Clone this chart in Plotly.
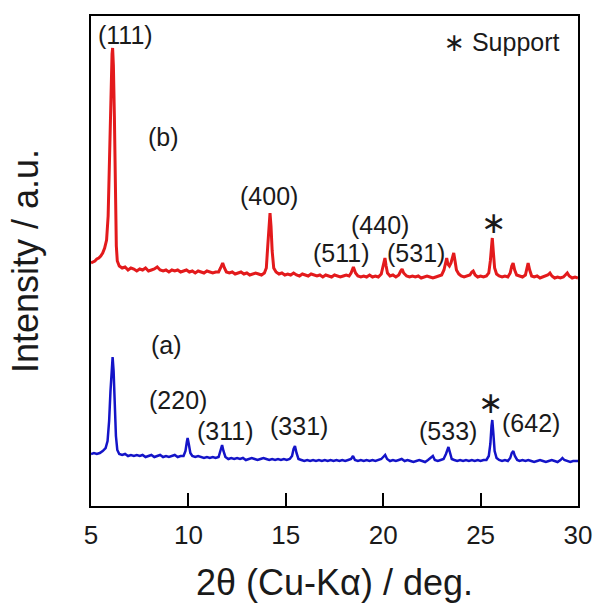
import plotly.graph_objects as go

# ---- data (2theta in deg, intensity in arbitrary units) ----
b_x = [5.00, 5.10, 5.20, 5.30, 5.40, 5.50, 5.60, 5.70, 5.80, 5.88, 5.95, 6.02, 6.08, 6.11, 6.15, 6.20, 6.25, 6.30, 6.35, 6.45,
       6.60, 6.75, 6.90, 7.05, 7.20, 7.35, 7.50, 7.65, 7.80, 7.95, 8.10, 8.25, 8.40, 8.55, 8.70, 8.85, 9.00, 9.15, 9.30, 9.45,
       9.60, 9.75, 9.90, 10.05, 10.20, 10.35, 10.50, 10.65, 10.80, 10.95, 11.10, 11.25, 11.40, 11.55, 11.65, 11.76, 11.85, 11.95,
       12.10, 12.25, 12.40, 12.55, 12.70, 12.85, 13.00, 13.15, 13.30, 13.45, 13.60, 13.75, 13.90, 14.00, 14.08, 14.14, 14.19,
       14.24, 14.30, 14.38, 14.50, 14.65, 14.80, 14.95, 15.10, 15.25, 15.40, 15.55, 15.70, 15.85, 16.00, 16.15, 16.30, 16.45,
       16.60, 16.75, 16.90, 17.05, 17.20, 17.35, 17.50, 17.65, 17.80, 17.95, 18.10, 18.25, 18.35, 18.47, 18.58, 18.70, 18.85,
       19.00, 19.15, 19.30, 19.45, 19.60, 19.75, 19.90, 19.98, 20.05, 20.09, 20.15, 20.22, 20.35, 20.50, 20.65, 20.80, 20.90,
       20.97, 21.05, 21.20, 21.35, 21.50, 21.65, 21.80, 21.95, 22.10, 22.25, 22.40, 22.55, 22.70, 22.85, 23.00, 23.12, 23.20,
       23.26, 23.32, 23.40, 23.48, 23.56, 23.62, 23.68, 23.76, 23.88, 24.00, 24.15, 24.30, 24.45, 24.55, 24.62, 24.72, 24.85,
       25.00, 25.15, 25.30, 25.42, 25.50, 25.56, 25.60, 25.65, 25.72, 25.82, 25.95, 26.10, 26.25, 26.40, 26.52, 26.60, 26.67,
       26.75, 26.85, 27.00, 27.15, 27.30, 27.38, 27.44, 27.52, 27.62, 27.75, 27.90, 28.05, 28.20, 28.35, 28.45, 28.56, 28.66,
       28.80, 28.95, 29.10, 29.25, 29.35, 29.45, 29.55, 29.70, 29.85, 30.00]
b_y = [243, 244, 245, 247, 248, 250, 253, 258, 266, 290, 350, 420, 452, 458, 440, 390, 320, 260, 245, 240,
       238, 239, 236, 238, 237, 235, 237, 236, 238, 235, 236, 237, 239, 236, 235, 236, 234, 236, 235, 236,
       234, 235, 236, 234, 235, 233, 235, 234, 233, 235, 234, 233, 234, 234, 238, 243, 238, 234,
       233, 234, 232, 233, 234, 232, 233, 231, 232, 233, 232, 231, 233, 238, 262, 285, 293,
       280, 255, 238, 234, 232, 233, 231, 232, 231, 233, 231, 230, 232, 231, 230, 232, 231,
       230, 231, 229, 231, 230, 229, 231, 230, 229, 230, 231, 230, 233, 239, 233, 230, 229,
       230, 229, 231, 229, 230, 229, 232, 238, 246, 248, 240, 233, 230, 231, 229, 231, 235,
       237, 233, 230, 229, 230, 229, 230, 228, 229, 230, 229, 228, 229, 230, 231, 236, 244,
       248, 242, 240, 243, 250, 253, 246, 236, 232, 230, 229, 230, 231, 234, 235, 231, 229,
       230, 229, 230, 233, 245, 262, 268, 255, 238, 232, 230, 229, 230, 229, 233, 240, 243,
       236, 231, 230, 229, 231, 238, 243, 236, 230, 229, 230, 228, 229, 230, 231, 233, 230,
       228, 229, 228, 229, 231, 233, 230, 228, 229, 228]

a_x = [5.00, 5.15, 5.30, 5.45, 5.60, 5.75, 5.85, 5.93, 6.00, 6.06, 6.11, 6.16, 6.22, 6.28, 6.35, 6.45, 6.60, 6.75, 6.90,
       7.05, 7.20, 7.35, 7.50, 7.65, 7.80, 7.95, 8.10, 8.25, 8.40, 8.55, 8.70, 8.85, 9.00, 9.15, 9.30, 9.45, 9.60, 9.75,
       9.85, 9.92, 9.96, 10.02, 10.10, 10.20, 10.35, 10.50, 10.65, 10.80, 10.95, 11.10, 11.25, 11.40, 11.55, 11.65, 11.73,
       11.80, 11.90, 12.05, 12.20, 12.35, 12.50, 12.65, 12.80, 12.95, 13.10, 13.25, 13.40, 13.55, 13.70, 13.85, 14.00,
       14.15, 14.30, 14.45, 14.60, 14.75, 14.90, 15.05, 15.20, 15.32, 15.40, 15.47, 15.55, 15.65, 15.80, 15.95, 16.10,
       16.25, 16.40, 16.55, 16.70, 16.85, 17.00, 17.15, 17.30, 17.45, 17.60, 17.75, 17.90, 18.05, 18.20, 18.35, 18.45,
       18.55, 18.70, 18.85, 19.00, 19.15, 19.30, 19.45, 19.60, 19.75, 19.90, 20.00, 20.10, 20.20, 20.35, 20.50, 20.65,
       20.80, 20.95, 21.10, 21.25, 21.40, 21.55, 21.70, 21.85, 22.00, 22.15, 22.30, 22.45, 22.55, 22.65, 22.80, 22.95,
       23.10, 23.22, 23.30, 23.35, 23.42, 23.52, 23.65, 23.80, 23.95, 24.10, 24.25, 24.40, 24.55, 24.70, 24.85, 25.00,
       25.15, 25.30, 25.42, 25.50, 25.56, 25.60, 25.65, 25.72, 25.82, 25.95, 26.10, 26.25, 26.40, 26.52, 26.60, 26.68,
       26.76, 26.88, 27.00, 27.15, 27.30, 27.45, 27.60, 27.75, 27.90, 28.05, 28.20, 28.35, 28.50, 28.65, 28.80, 28.95,
       29.10, 29.20, 29.30, 29.45, 29.60, 29.75, 29.90, 30.00]
a_y = [52, 53, 52, 53, 55, 58, 65, 85, 115, 140, 149, 135, 100, 70, 56, 52, 51, 52, 50,
       51, 50, 51, 50, 51, 49, 50, 51, 49, 50, 51, 49, 50, 49, 50, 51, 49, 50, 50,
       55, 64, 68, 62, 53, 50, 49, 50, 49, 48, 49, 48, 49, 48, 49, 55, 61,
       55, 49, 47, 48, 47, 48, 47, 48, 46, 47, 48, 47, 46, 47, 48, 47,
       46, 47, 46, 47, 46, 47, 46, 47, 50, 57, 60, 53, 47, 46, 45, 46,
       45, 46, 45, 46, 45, 46, 45, 46, 45, 46, 45, 46, 45, 46, 47, 50,
       46, 45, 46, 45, 46, 45, 46, 45, 46, 47, 49, 51, 47, 45, 46, 45,
       46, 47, 45, 46, 45, 44, 45, 46, 45, 44, 46, 48, 50, 46, 45, 46,
       47, 52, 57, 59, 54, 47, 46, 45, 46, 45, 46, 45, 46, 45, 46, 45,
       46, 46, 50, 62, 80, 86, 74, 55, 48, 46, 45, 46, 45, 48, 53, 55,
       50, 46, 45, 46, 45, 46, 45, 44, 45, 46, 45, 44, 45, 46, 45, 44,
       46, 48, 46, 45, 44, 45, 45, 45]

label_text = ["(111)", "(b)", "(400)", "(440)", "(511)", "(531)",
              "(a)", "(220)", "(311)", "(331)", "(533)", "(642)"]
label_x = [6.75, 8.70, 14.14, 19.83, 17.88, 21.68,
           8.85, 9.47, 11.88, 15.68, 23.33, 27.59]
label_y = [471, 369, 310, 281, 253, 253,
           161, 106, 75, 80, 75, 83]

star_x = [25.64, 25.53]
star_y = [284, 104]

x_ticks = [5, 10, 15, 20, 25, 30]

FONT = "Liberation Sans, Arial, sans-serif"
TXT = "#1a1a1a"
STAR = "∗"

fig = go.Figure()
fig.add_trace(go.Scatter(x=b_x, y=b_y, mode="lines", line=dict(color="#e31a1c", width=3), showlegend=False))
fig.add_trace(go.Scatter(x=a_x, y=a_y, mode="lines", line=dict(color="#1414c8", width=2.5), showlegend=False))

for t, x, y in zip(label_text, label_x, label_y):
    fig.add_annotation(x=x, y=y, text=t, showarrow=False, xanchor="center", yanchor="middle",
                       font=dict(family=FONT, size=25, color=TXT))
for x, y in zip(star_x, star_y):
    fig.add_annotation(x=x, y=y, text=STAR, showarrow=False, xanchor="center", yanchor="middle",
                       font=dict(family="DejaVu Sans", size=30, color=TXT))

fig.add_annotation(x=26.10, y=464, text=f"<span style='font-family:DejaVu Sans'>{STAR}</span> Support",
                   showarrow=False, xanchor="center", yanchor="middle",
                   font=dict(family=FONT, size=25, color=TXT))

fig.update_layout(
    width=595, height=603,
    margin=dict(l=91, r=17, t=16, b=97),
    paper_bgcolor="white", plot_bgcolor="white",
    font=dict(family=FONT, color=TXT),
)
fig.update_xaxes(range=[5, 30], tickvals=x_ticks, ticks="inside", ticklen=13, tickwidth=2, tickcolor="black",
                 showline=True, linewidth=2, linecolor="black", mirror=True, showgrid=False, zeroline=False,
                 ticklabelstandoff=5, automargin=False,
                 tickfont=dict(family=FONT, size=26, color=TXT),
                 title=dict(text="2θ (Cu-Kα) / deg.", font=dict(family=FONT, size=36, color=TXT), standoff=30))
fig.update_yaxes(range=[0, 490], showticklabels=False, ticks="", automargin=False,
                 showline=True, linewidth=2, linecolor="black", mirror=True, showgrid=False, zeroline=False,
                 title=dict(text="Intensity / a.u.", font=dict(family=FONT, size=36, color=TXT), standoff=39))

fig.write_html("out.html")
